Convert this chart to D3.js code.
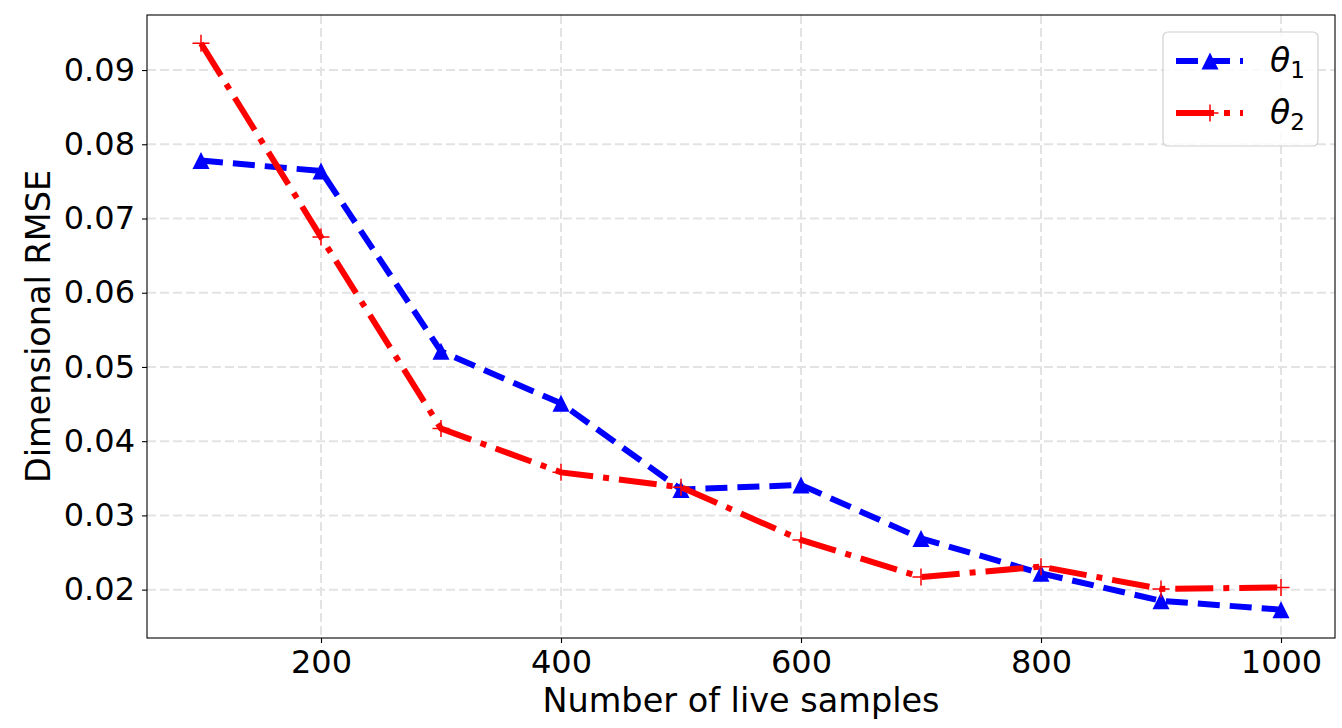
<!DOCTYPE html>
<html>
<head>
<meta charset="utf-8">
<script src="https://cdn.jsdelivr.net/npm/d3@7"></script>
<style>
  body { margin: 0; background: #fff; }
  text { font-family: "DejaVu Sans", sans-serif; }
</style>
</head>
<body>
<div id="chart"></div>
<script>
const samples = [100, 200, 300, 400, 500, 600, 700, 800, 900, 1000];
const theta1 = [0.0778, 0.0764, 0.0521, 0.0451, 0.0335, 0.0341, 0.0269, 0.0222, 0.0185, 0.0173];
const theta2 = [0.0936, 0.0675, 0.0417, 0.0358, 0.0338, 0.0267, 0.0217, 0.0231, 0.0201, 0.0203];
const xTicks = [200, 400, 600, 800, 1000];
const yTicks = [0.02, 0.03, 0.04, 0.05, 0.06, 0.07, 0.08, 0.09];

const W = 1342, H = 728;
const plotL = 147, plotR = 1335, plotT = 15, plotB = 638;

const svg = d3.select("#chart").append("svg")
  .attr("width", W)
  .attr("height", H);

// matplotlib style 5% margins
const xPad = (d3.max(samples) - d3.min(samples)) * 0.05;
const x = d3.scaleLinear()
  .domain([d3.min(samples) - xPad, d3.max(samples) + xPad])
  .range([plotL, plotR]);

const allY = theta1.concat(theta2);
const yPad = (d3.max(allY) - d3.min(allY)) * 0.05;
const y = d3.scaleLinear()
  .domain([d3.min(allY) - yPad, d3.max(allY) + yPad])
  .range([plotB, plotT]);

// grid
const grid = svg.append("g")
  .attr("stroke", "#e3e3e3")
  .attr("stroke-width", 2)
  .attr("stroke-dasharray", "9,4");
grid.selectAll(".gx").data(xTicks).enter().append("line")
  .attr("x1", d => x(d)).attr("x2", d => x(d))
  .attr("y1", plotT).attr("y2", plotB);
grid.selectAll(".gy").data(yTicks).enter().append("line")
  .attr("x1", plotL).attr("x2", plotR)
  .attr("y1", d => y(d)).attr("y2", d => y(d));

// axes
const xAxis = svg.append("g")
  .attr("transform", `translate(0,${plotB})`)
  .call(d3.axisBottom(x).tickValues(xTicks).tickFormat(d3.format("d")).tickSize(5).tickPadding(7).tickSizeOuter(0));
const yAxis = svg.append("g")
  .attr("transform", `translate(${plotL},0)`)
  .call(d3.axisLeft(y).tickValues(yTicks).tickFormat(d3.format(".2f")).tickSize(5).tickPadding(7).tickSizeOuter(0));

[xAxis, yAxis].forEach(a => {
  a.select(".domain").remove();
  a.selectAll("text")
    .style("font-family", "'DejaVu Sans', sans-serif")
    .style("font-size", "32px")
    .attr("fill", "#000");
  a.selectAll(".tick line").attr("stroke", "#000").attr("stroke-width", 1.1);
});

// frame
svg.append("rect")
  .attr("x", plotL).attr("y", plotT)
  .attr("width", plotR - plotL).attr("height", plotB - plotT)
  .attr("fill", "none")
  .attr("stroke", "#000")
  .attr("stroke-width", 1.1);

// axis labels
svg.append("text")
  .attr("x", 741)
  .attr("y", 712)
  .attr("text-anchor", "middle")
  .style("font-size", "33.5px")
  .text("Number of live samples");

svg.append("text")
  .attr("transform", "rotate(-90)")
  .attr("x", -(plotT + plotB) / 2)
  .attr("y", 50)
  .attr("text-anchor", "middle")
  .style("font-size", "33.5px")
  .text("Dimensional RMSE");

// series
const triPath = "M0,-8.5L8.5,8.5L-8.5,8.5Z";
const plusPath = "M-8.5,0H8.5M0,-8.5V8.5";

const line = d3.line().x((d, i) => x(samples[i])).y(d => y(d));

const plot = svg.append("g");

plot.append("path")
  .datum(theta1)
  .attr("fill", "none")
  .attr("stroke", "blue")
  .attr("stroke-width", 6)
  .attr("stroke-dasharray", "22,10")
  .attr("d", line);

plot.selectAll(".m1").data(theta1).enter().append("path")
  .attr("transform", (d, i) => `translate(${x(samples[i])},${y(d)})`)
  .attr("d", triPath)
  .attr("fill", "blue");

plot.append("path")
  .datum(theta2)
  .attr("fill", "none")
  .attr("stroke", "red")
  .attr("stroke-width", 6)
  .attr("stroke-dasharray", "38,10,6,10")
  .attr("d", line);

plot.selectAll(".m2").data(theta2).enter().append("path")
  .attr("transform", (d, i) => `translate(${x(samples[i])},${y(d)})`)
  .attr("d", plusPath)
  .attr("fill", "none")
  .attr("stroke", "red")
  .attr("stroke-width", 1.5);

// legend
const leg = svg.append("g");
leg.append("rect")
  .attr("x", 1163).attr("y", 32)
  .attr("width", 155).attr("height", 114)
  .attr("rx", 5)
  .attr("fill", "white")
  .attr("fill-opacity", 0.8)
  .attr("stroke", "#d0d0d0")
  .attr("stroke-width", 1.2);

const legItems = [
  { sub: "1", color: "blue", dash: "22,10", y: 61, marker: triPath, fill: "blue", stroke: "none" },
  { sub: "2", color: "red", dash: "38,10,6,10", y: 113, marker: plusPath, fill: "none", stroke: "red" }
];

legItems.forEach(it => {
  leg.append("line")
    .attr("x1", 1176).attr("x2", 1243)
    .attr("y1", it.y).attr("y2", it.y)
    .attr("stroke", it.color)
    .attr("stroke-width", 6)
    .attr("stroke-dasharray", it.dash);
  leg.append("path")
    .attr("transform", `translate(1210,${it.y})`)
    .attr("d", it.marker)
    .attr("fill", it.fill)
    .attr("stroke", it.stroke)
    .attr("stroke-width", 1.5);
  const t = leg.append("text")
    .attr("x", 1270)
    .attr("y", it.y + 11)
    .style("font-size", "33px");
  t.append("tspan").style("font-style", "italic").text("θ");
  t.append("tspan").attr("dy", 6).style("font-size", "23px").text(it.sub);
});
</script>
</body>
</html>
